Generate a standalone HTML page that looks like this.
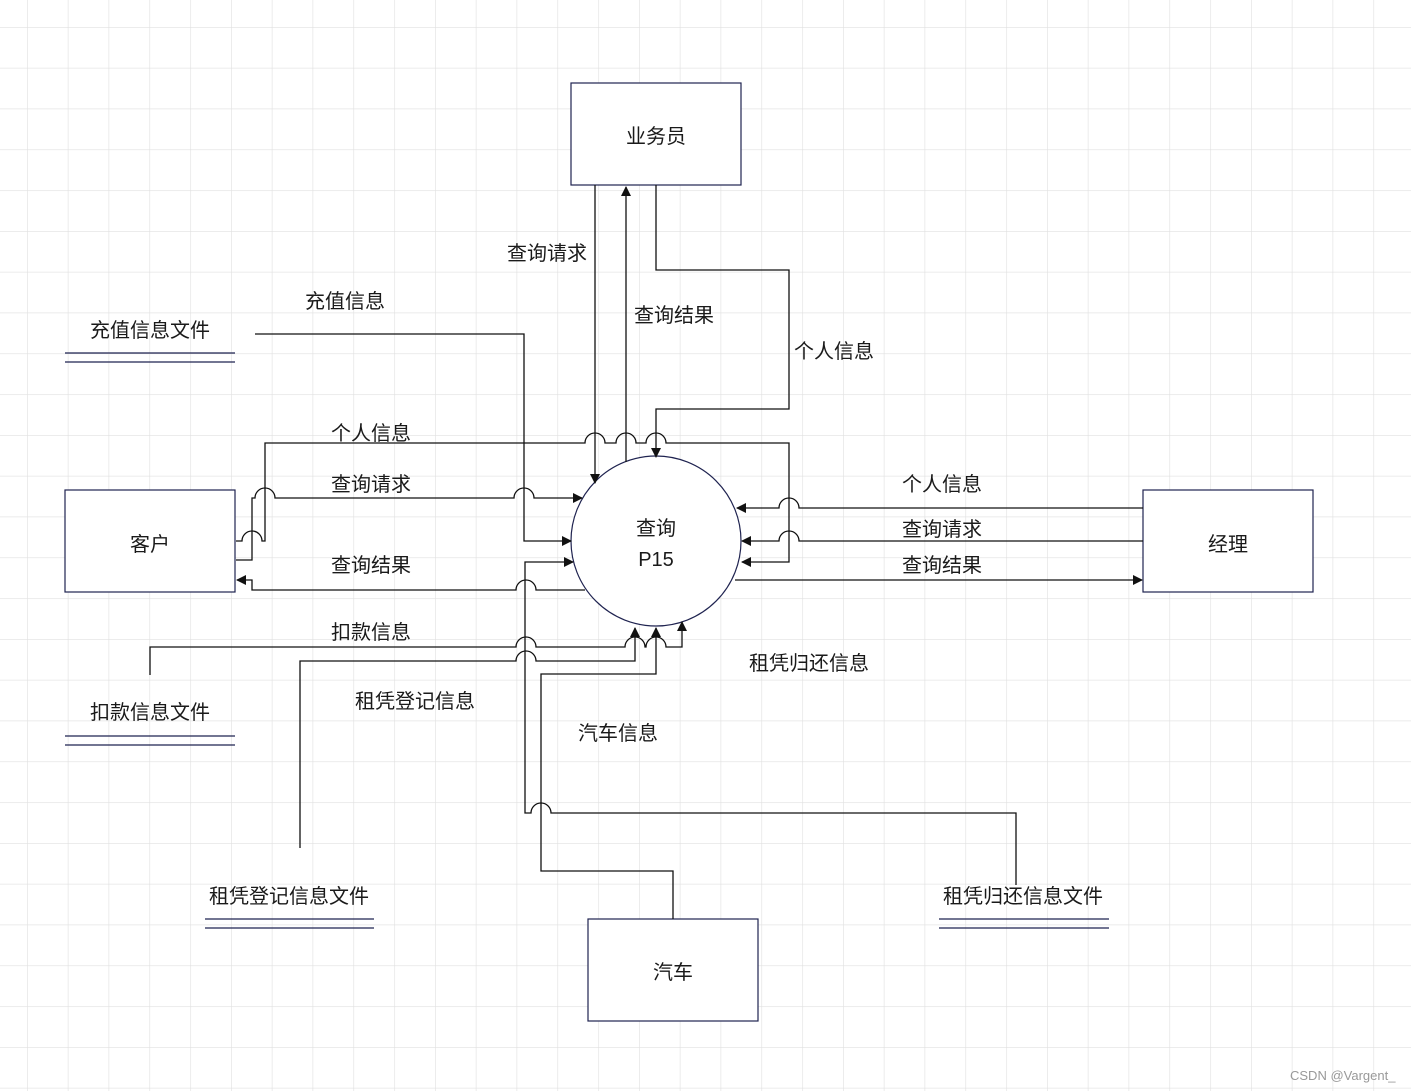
<!DOCTYPE html>
<html><head><meta charset="utf-8"><style>
html,body{margin:0;padding:0;background:#fff}
svg{display:block}
text{font-family:"Liberation Sans","Noto Sans CJK SC",sans-serif;font-size:20px;fill:#1a1a1a}
</style></head><body>
<svg width="1411" height="1091" viewBox="0 0 1411 1091" xmlns="http://www.w3.org/2000/svg">
<defs>
<pattern id="g" x="27" y="27" width="40.8" height="40.8" patternUnits="userSpaceOnUse">
<path d="M0 0H40.8M0 0V40.8" stroke="#e0e0e0" stroke-width="1.2" fill="none"/>
</pattern>
<marker id="a" markerWidth="10" markerHeight="10" refX="9" refY="5" orient="auto" markerUnits="userSpaceOnUse">
<path d="M0 0L10 5L0 10z" fill="#111"/>
</marker>
</defs>
<rect width="1411" height="1091" fill="url(#g)"/>
<g fill="#fff" stroke="#1f2350" stroke-width="1.2">
<rect x="571" y="83" width="170" height="102"/>
<rect x="65" y="490" width="170" height="102"/>
<rect x="1143" y="490" width="170" height="102"/>
<rect x="588" y="919" width="170" height="102"/>
<circle cx="656" cy="541" r="85"/>
</g>
<g stroke="#1f2350" stroke-width="1.2">
<line x1="65" y1="353" x2="235" y2="353"/><line x1="65" y1="362" x2="235" y2="362"/>
<line x1="65" y1="736" x2="235" y2="736"/><line x1="65" y1="745" x2="235" y2="745"/>
<line x1="205" y1="919" x2="374" y2="919"/><line x1="205" y1="928" x2="374" y2="928"/>
<line x1="939" y1="919" x2="1109" y2="919"/><line x1="939" y1="928" x2="1109" y2="928"/>
</g>
<g fill="none" stroke="#111" stroke-width="1.3">
<!-- 业务员 -->
<path d="M595 185V483" marker-end="url(#a)"/>
<path d="M626 462V187" marker-end="url(#a)"/>
<path d="M656 185V270H789V409H656V457" marker-end="url(#a)"/>
<!-- 充值信息 -->
<path d="M255 334H524V541H571" marker-end="url(#a)"/>
<!-- 客户 个人信息 -->
<path d="M236 541H242A10 10 0 0 1 262 541H265V443H585A10 10 0 0 1 605 443H616A10 10 0 0 1 636 443H646A10 10 0 0 1 666 443H789V562H742" marker-end="url(#a)"/>
<!-- 查询请求 -->
<path d="M236 560H252V498H255A10 10 0 0 1 275 498H514A10 10 0 0 1 534 498H582" marker-end="url(#a)"/>
<!-- 查询结果 -->
<path d="M585 590H536A10 10 0 0 0 516 590H252V580H237" marker-end="url(#a)"/>
<!-- 租凭归还信息 -->
<path d="M1016 885V813H551A10 10 0 0 0 531 813H525V562H573" marker-end="url(#a)"/>
<!-- 扣款信息 -->
<path d="M150 675V647H516A10 10 0 0 1 536 647H625A10 10 0 0 1 645 647H646A10 10 0 0 1 666 647H682V622" marker-end="url(#a)"/>
<!-- 租凭登记信息 -->
<path d="M300 848V661H516A10 10 0 0 1 536 661H635V628" marker-end="url(#a)"/>
<!-- 汽车信息 -->
<path d="M673 919V871H541V674H656V628" marker-end="url(#a)"/>
<!-- 经理 -->
<path d="M1143 508H799A10 10 0 0 0 779 508H737" marker-end="url(#a)"/>
<path d="M1143 541H799A10 10 0 0 0 779 541H742" marker-end="url(#a)"/>
<path d="M735 580H1142" marker-end="url(#a)"/>
</g>
<g text-anchor="middle">
<text x="656" y="143">业务员</text>
<text x="150" y="551">客户</text>
<text x="1228" y="551">经理</text>
<text x="673" y="979">汽车</text>
<text x="656" y="535">查询</text>
<text x="656" y="566">P15</text>
<text x="150" y="337">充值信息文件</text>
<text x="150" y="719">扣款信息文件</text>
<text x="289" y="903">租凭登记信息文件</text>
<text x="1023" y="903">租凭归还信息文件</text>
<text x="547" y="260">查询请求</text>
<text x="674" y="322">查询结果</text>
<text x="834" y="358">个人信息</text>
<text x="345" y="308">充值信息</text>
<text x="371" y="440">个人信息</text>
<text x="371" y="491">查询请求</text>
<text x="371" y="572">查询结果</text>
<text x="371" y="639">扣款信息</text>
<text x="415" y="708">租凭登记信息</text>
<text x="618" y="740">汽车信息</text>
<text x="809" y="670">租凭归还信息</text>
<text x="942" y="491">个人信息</text>
<text x="942" y="536">查询请求</text>
<text x="942" y="572">查询结果</text>
</g>
<text x="1290" y="1080" style="font-size:13px;fill:#999">CSDN @Vargent_</text>
</svg>
</body></html>
